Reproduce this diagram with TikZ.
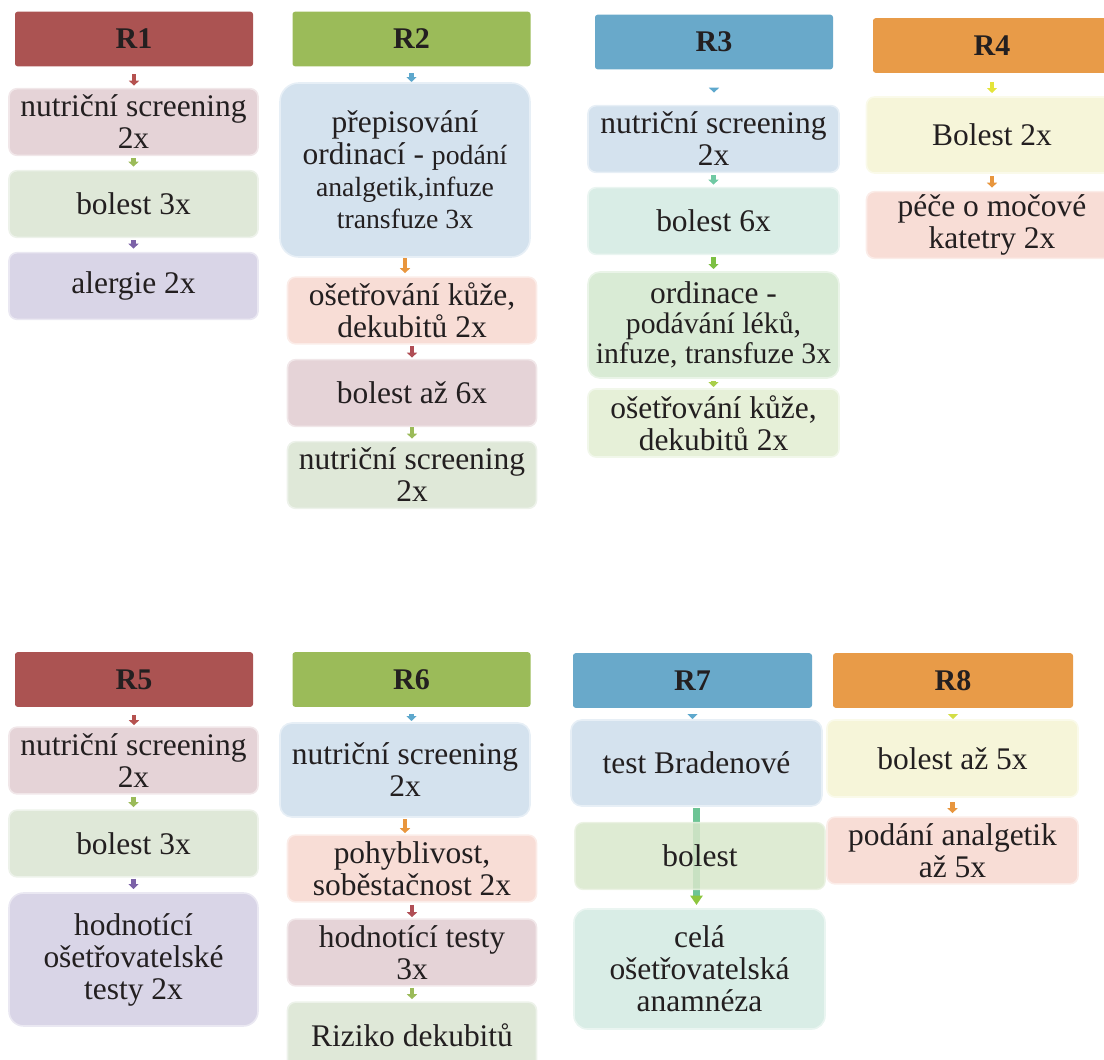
\documentclass[tikz,border=0pt]{standalone}
\usepackage{fontspec}
\setmainfont{Liberation Serif}
\usetikzlibrary{arrows.meta}

% header and box colours
\definecolor{ink}{HTML}{231F20}
\definecolor{hRed}{HTML}{AB5352}
\definecolor{hGreen}{HTML}{9BBB59}
\definecolor{hBlue}{HTML}{69A9CA}
\definecolor{hOrange}{HTML}{E89B48}
\definecolor{bMauve}{HTML}{E5D3D7}
\definecolor{bGreen}{HTML}{DFE8D8}
\definecolor{bLilac}{HTML}{D9D5E7}
\definecolor{bBlue}{HTML}{D4E2EE}
\definecolor{bSalmon}{HTML}{F8DDD6}
\definecolor{bMint}{HTML}{D9EDE6}
\definecolor{bLeaf}{HTML}{D9EBD5}
\definecolor{bLime}{HTML}{E6F0D8}
\definecolor{bCream}{HTML}{F6F5D9}
\definecolor{bSage}{HTML}{D8E7CB}
% arrow colours
\definecolor{aRed}{HTML}{B5514F}
\definecolor{aGreen}{HTML}{9BBB59}
\definecolor{aPurple}{HTML}{7C62A8}
\definecolor{aBlue}{HTML}{5EA8CD}
\definecolor{aOrange}{HTML}{E8963E}
\definecolor{aWine}{HTML}{B04E55}
\definecolor{aTeal}{HTML}{6FC9A3}
\definecolor{aLeaf}{HTML}{7CC043}
\definecolor{aLime}{HTML}{A9CF4A}
\definecolor{aYellow}{HTML}{E4E43A}
\definecolor{aChart}{HTML}{D3DE45}
\definecolor{barTeal}{HTML}{6DC495}
\definecolor{barHead}{HTML}{8DC63F}

\newcommand\fsBody{\fontsize{23.6pt}{24pt}\selectfont}
\newcommand\fsSmall{\fontsize{20.8pt}{24pt}\selectfont}
\newcommand\fsMid{\fontsize{22.3pt}{22.3pt}\selectfont}
\newcommand\fsHead{\fontsize{22.5pt}{24pt}\selectfont\bfseries}

\begin{document}
\begin{tikzpicture}[x=0.75pt,y=-0.75pt,
  hdr/.style={fill=#1, rounded corners=2pt, minimum width=178.5pt,
    minimum height=41pt, inner sep=0pt, outer sep=0pt, font=\fsHead, text=ink},
  box/.style={fill=#1, draw=#1!55!white, line width=1.2pt, rounded corners=6pt,
    minimum width=186.75pt, minimum height=50pt, inner sep=0pt, outer sep=0pt,
    align=center, font=\fsBody, text=ink},
  link/.style n args={3}{draw=#1, line width=3.6pt,
    -{Triangle[width=7.5pt,length=3.75pt,color=#1]},
    shorten <=#2, shorten >=#3},
]
\useasboundingbox (0,0) rectangle (1104,1060);
\clip (0,0) rectangle (1104,1060);

% ---------- R1 ----------
\node[hdr=hRed] (h1) at (134,39) {R1};
\node[box=bMauve] (a1) at (133.5,122) {nutriční screening\\2x};
\node[box=bGreen] (a2) at (133.5,204) {bolest 3x};
\node[box=bLilac] (a3) at (133.5,286) {alergie 2x};
\draw[link={aRed}{6pt}{2.25pt}] (h1.south) -- (h1.south |- a1.north);
\draw[link={aGreen}{2.25pt}{3pt}] (a1.south) -- (a2.north);
\draw[link={aPurple}{2.25pt}{3pt}] (a2.south) -- (a3.north);

% ---------- R2 ----------
\node[hdr=hGreen] (h2) at (411.5,39) {R2};
\node[box=bBlue, minimum width=187.5pt, minimum height=130.5pt,
  rounded corners=14pt] (b1) at (405,170)
  {přepisování\\ordinací - {\fsSmall podání}\\{\fsSmall analgetik,infuze}\\{\fsSmall transfuze 3x}};
\node[box=bSalmon] (b2) at (412,310.5) {ošetřování kůže,\\dekubitů 2x};
\node[box=bMauve] (b3) at (412,393) {bolest až 6x};
\node[box=bGreen] (b4) at (412,475) {nutriční screening\\2x};
\draw[link={aBlue}{5.25pt}{0.75pt}] (h2.south) -- (h2.south |- b1.north);
\draw[link={aOrange}{0.75pt}{3pt}] (b1.south) -- (b1.south |- b2.north);
\draw[link={aWine}{1.5pt}{1.5pt}] (b2.south) -- (b3.north);
\draw[link={aGreen}{0.75pt}{2.25pt}] (b3.south) -- (b4.north);

% ---------- R3 ----------
\node[hdr=hBlue] (h3) at (714,42) {R3};
\node[box=bBlue, minimum width=188.25pt] (c1) at (713.5,139) {nutriční screening\\2x};
\node[box=bMint, minimum width=188.25pt] (c2) at (713.5,221) {bolest 6x};
\node[box=bLeaf, minimum width=188.25pt, minimum height=79.5pt,
  rounded corners=9pt, font=\fsMid] (c3) at (713.5,325)
  {{\fsBody ordinace -}\\podávání léků,\\infuze, transfuze 3x};
\node[box=bLime, minimum width=188.25pt, minimum height=51pt] (c4) at (713.5,423)
  {ošetřování kůže,\\dekubitů 2x};
\draw[link={aBlue}{14.25pt}{9.75pt}] (h3.south) -- (h3.south |- c1.north);
\draw[link={aTeal}{2.25pt}{2.25pt}] (c1.south) -- (c2.north);
\draw[link={aLeaf}{2.25pt}{2.25pt}] (c2.south) -- (c3.north);
\draw[link={aLime}{2.25pt}{1.5pt}] (c3.south) -- (c4.north);

% ---------- R4 ----------
\node[hdr=hOrange] (h4) at (992,45.5) {R4};
\node[box=bCream, minimum width=188.25pt, minimum height=57pt] (d1) at (992,135) {Bolest 2x};
\node[box=bSalmon, minimum width=188.25pt] (d2) at (992,225) {péče o močové\\katetry 2x};
\draw[link={aYellow}{6.75pt}{3pt}] (h4.south) -- (d1.north);
\draw[link={aOrange}{2.25pt}{3pt}] (d1.south) -- (d2.north);

% ---------- R5 ----------
\node[hdr=hRed] (h5) at (134,679.5) {R5};
\node[box=bMauve] (e1) at (133.5,760.5) {nutriční screening\\2x};
\node[box=bGreen] (e2) at (133.5,843.5) {bolest 3x};
\node[box=bLilac, minimum height=99.75pt, rounded corners=11pt] (e3) at (133.5,959.5)
  {hodnotící\\ošetřovatelské\\testy 2x};
\draw[link={aRed}{6pt}{1.5pt}] (h5.south) -- (h5.south |- e1.north);
\draw[link={aGreen}{2.25pt}{2.25pt}] (e1.south) -- (e2.north);
\draw[link={aPurple}{1.5pt}{3pt}] (e2.south) -- (e3.north);

% ---------- R6 ----------
\node[hdr=hGreen] (h6) at (411.5,679.5) {R6};
\node[box=bBlue, minimum width=187.5pt, minimum height=70.5pt,
  rounded corners=9pt] (f1) at (405,770) {nutriční screening\\2x};
\node[box=bSalmon] (f2) at (412,868.5) {pohyblivost,\\soběstačnost 2x};
\node[box=bMauve] (f3) at (412,952.5) {hodnotící testy\\3x};
\node[box=bGreen] (f4) at (412,1035.5) {Riziko dekubitů};
\draw[link={aBlue}{5.25pt}{1.5pt}] (h6.south) -- (h6.south |- f1.north);
\draw[link={aOrange}{1.5pt}{1.5pt}] (f1.south) -- (f1.south |- f2.north);
\draw[link={aWine}{2.25pt}{1.5pt}] (f2.south) -- (f3.north);
\draw[link={aGreen}{1.5pt}{2.25pt}] (f3.south) -- (f4.north);

% ---------- R7 ----------
\node[hdr=hBlue, minimum width=179.25pt] (h7) at (692.5,680.5) {R7};
\node[box=bBlue, minimum width=188.25pt, minimum height=64.5pt,
  rounded corners=8pt] (g1) at (696.5,763) {test Bradenové};
\node[box=bMint, minimum width=188.25pt, minimum height=90pt,
  rounded corners=10pt] (g3) at (699.5,969) {celá\\ošetřovatelská\\anamnéza};
\draw[link={aBlue}{4.5pt}{0.75pt}] (h7.south) -- (h7.south |- g1.north);
% long connector running behind the middle box
\draw[draw=barTeal, line width=5.25pt,
  -{Triangle[width=9pt,length=7pt,color=barHead]},
  shorten <=1.5pt, shorten >=3pt] (g1.south) -- (g1.south |- g3.north);
\node[box=bSage, fill opacity=0.85, draw opacity=0.85, text opacity=1,
  minimum width=187.5pt] (g2) at (700,856) {bolest};

% ---------- R8 ----------
\node[hdr=hOrange, minimum width=180pt] (h8) at (953,680.5) {R8};
\node[box=bCream, minimum width=188.25pt, minimum height=57.75pt] (k1) at (952.5,758.5) {bolest až 5x};
\node[box=bSalmon, minimum width=188.25pt] (k2) at (952.5,850.5) {podání analgetik\\až 5x};
\draw[link={aChart}{4.5pt}{0.75pt}] (h8.south) -- (h8.south |- k1.north);
\draw[link={aOrange}{3.75pt}{3pt}] (k1.south) -- (k2.north);
\end{tikzpicture}
\end{document}
